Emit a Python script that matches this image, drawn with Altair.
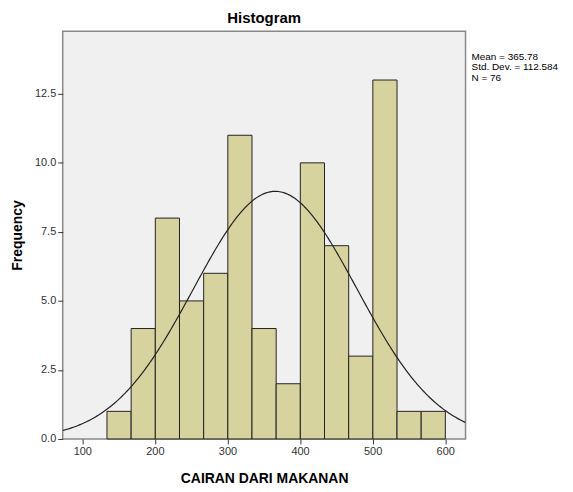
import altair as alt
import pandas as pd
import numpy as np

# Data
bin_min = 134.0
bin_width = 33.3
counts = [1, 4, 8, 5, 6, 11, 4, 2, 10, 7, 3, 13, 1, 1]
mean = 365.78
sd = 112.584
n = 76
x_ticks = [100, 200, 300, 400, 500, 600]
y_ticks = [0.0, 2.5, 5.0, 7.5, 10.0, 12.5]
x_domain = [73, 628]
y_domain = [0, 14.77]

bars = pd.DataFrame({
    "start": [bin_min + i * bin_width for i in range(len(counts))],
    "end": [bin_min + (i + 1) * bin_width for i in range(len(counts))],
    "count": counts,
})

xs = np.linspace(x_domain[0], x_domain[1], 300)
curve = pd.DataFrame({
    "x": xs,
    "y": n * bin_width * np.exp(-0.5 * ((xs - mean) / sd) ** 2) / (sd * np.sqrt(2 * np.pi)),
})

xscale = alt.Scale(domain=x_domain, nice=False, zero=False)
yscale = alt.Scale(domain=y_domain, nice=False)

xaxis = alt.Axis(values=x_ticks, format="d", title="CAIRAN DARI MAKANAN", grid=False,
                 labelFont="Liberation Sans", labelFontSize=11, labelColor="#333333",
                 titleFont="Liberation Sans", titleFontSize=14, titleFontWeight="bold",
                 titleColor="#000000", titlePadding=15, tickSize=5, tickColor="#333333",
                 labelPadding=2, domain=False)
yaxis = alt.Axis(values=y_ticks, format=".1f", title="Frequency", grid=False,
                 labelFont="Liberation Sans", labelFontSize=11, labelColor="#333333",
                 titleFont="Liberation Sans", titleFontSize=14, titleFontWeight="bold",
                 titleColor="#000000", titlePadding=10, tickSize=5, tickColor="#333333",
                 labelPadding=2, domain=False)

bar_layer = alt.Chart(bars).mark_rect(fill="#d6d39f", stroke="#222222", strokeWidth=1).encode(
    x=alt.X("start:Q", scale=xscale, axis=xaxis),
    x2="end:Q",
    y=alt.Y("count:Q", scale=yscale, axis=yaxis),
    y2=alt.datum(0),
)

line_layer = alt.Chart(curve).mark_line(color="#222222", strokeWidth=1.2, clip=True).encode(
    x=alt.X("x:Q", scale=xscale),
    y=alt.Y("y:Q", scale=yscale, axis=None),
)

stats = pd.DataFrame({
    "label": [f"Mean = {mean}", f"Std. Dev. = {sd}", f"N = {n}"],
    "row": [0, 1, 2],
})
stats_layer = alt.Chart(stats).mark_text(align="left", baseline="middle", font="Liberation Sans",
                                          fontSize=10, color="#000000").encode(
    x=alt.value(411),
    y=alt.Y("row:Q", scale=alt.Scale(domain=[0, 2], range=[26, 47]), axis=None),
    text="label:N",
)

chart = alt.layer(bar_layer, line_layer, stats_layer).resolve_scale(y="independent").properties(
    width=405,
    height=410,
    title=alt.TitleParams("Histogram", font="Liberation Sans", fontSize=15, fontWeight="bold",
                          color="#000000", offset=5),
    autosize=alt.AutoSizeParams(type="none"),
    padding={"left": 55, "top": 22, "right": 100, "bottom": 45},
    background="#ffffff",
).configure_view(
    fill="#f0f0f0", stroke="#888888", strokeWidth=1.5
)

chart.save("out.html", embed_options={"renderer": "svg", "actions": False})
